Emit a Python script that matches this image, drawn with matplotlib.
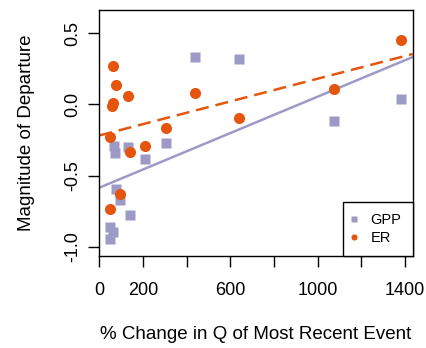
import numpy as np
import matplotlib
matplotlib.use("Agg")
import matplotlib.pyplot as plt

plt.rcParams["font.family"] = ["Liberation Sans", "DejaVu Sans"]

# GPP points (% change in Q, magnitude of departure)
gpp_x = [437, 640, 1381, 1076, 307, 208, 131, 66, 70, 78, 96, 139, 50, 62, 50]
gpp_y = [0.337, 0.319, 0.04, -0.119, -0.271, -0.381, -0.30, -0.29, -0.34,
         -0.594, -0.669, -0.775, -0.864, -0.896, -0.945]

# ER points
er_x = [1381, 62, 78, 131, 62, 58, 437, 640, 1076, 307, 50, 211, 139, 96, 50]
er_y = [0.452, 0.267, 0.14, 0.056, 0.01, -0.014, 0.08, -0.098, 0.11, -0.166,
        -0.229, -0.29, -0.334, -0.627, -0.735]

# fitted lines (intercept, slope)
gpp_fit = [-0.585, 0.00064]
er_fit = [-0.218, 0.000399]

x_ticks = [0, 200, 400, 600, 800, 1000, 1200, 1400]
x_labels = ["0", "200", "", "600", "", "1000", "", "1400"]
y_ticks = [-1.0, -0.5, 0.0, 0.5]
y_labels = ["-1.0", "-0.5", "0.0", "0.5"]

gpp_col = "#9e9ac8"
er_col = "#e6550d"

fig = plt.figure(figsize=(4.27, 3.48), dpi=100)
ax = fig.add_axes([0.2326, 0.2644, 0.7339, 0.7069])

xl = np.array([0, 1435])
ax.plot(xl, gpp_fit[0] + gpp_fit[1] * xl, color=gpp_col, lw=1.8, zorder=2)
ax.plot(xl, er_fit[0] + er_fit[1] * xl, color=er_col, lw=1.8,
        dashes=(5.2, 2.8), zorder=2)

ax.plot(gpp_x, gpp_y, "s", color=gpp_col, ms=7.4, mec="none", label="GPP", zorder=3)
ax.plot(er_x, er_y, "o", color=er_col, ms=8.0, mec="none", label="ER", zorder=4)

ax.set_xlim(0, 1435)
ax.set_ylim(-1.065, 0.664)
ax.set_xticks(x_ticks)
ax.set_xticklabels(x_labels)
ax.set_yticks(y_ticks)
ax.set_yticklabels(y_labels, rotation=90, va="center")
ax.tick_params(direction="out", length=8, width=1, labelsize=13)
ax.tick_params(axis="x", pad=10.5)
ax.tick_params(axis="y", pad=5)
for s in ax.spines.values():
    s.set_linewidth(1)

ax.set_xlabel("% Change in Q of Most Recent Event", fontsize=13.5)
ax.set_ylabel("Magnitude of Departure", fontsize=13.5)
ax.xaxis.set_label_coords(0.5, -0.285)
ax.yaxis.set_label_coords(-0.205, 0.5)

leg = ax.legend(loc="lower right", borderaxespad=0, fancybox=False,
                edgecolor="black", fontsize=10.5, markerscale=0.55,
                handlelength=0.05, handletextpad=1.07, borderpad=0.78,
                labelspacing=0.25, framealpha=1)
leg.get_frame().set_linewidth(1)

fig.savefig("out.png", dpi=100)
